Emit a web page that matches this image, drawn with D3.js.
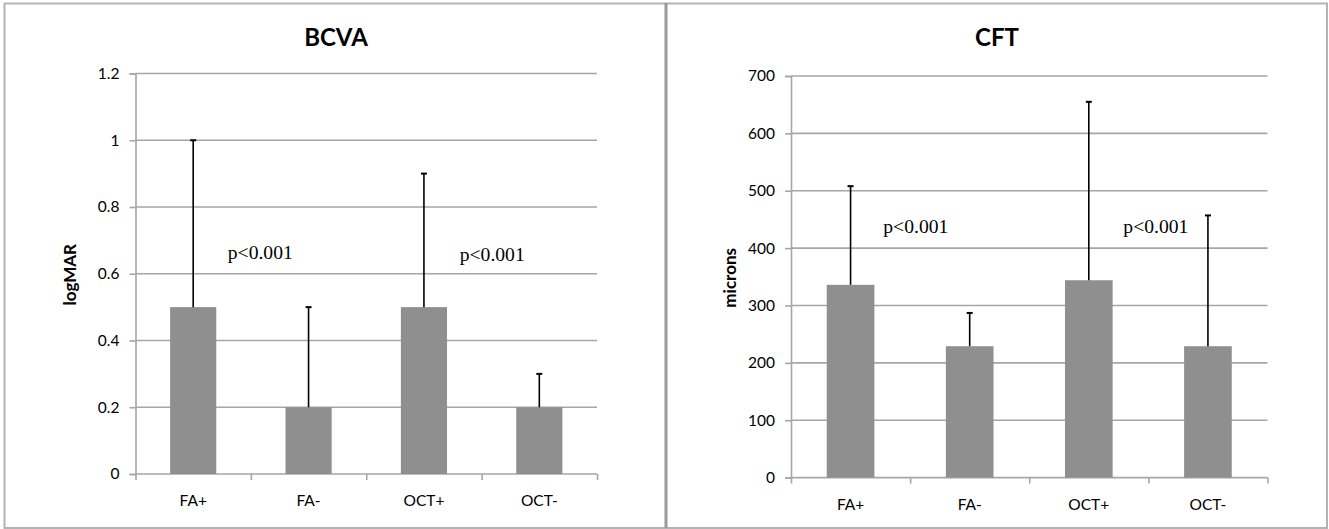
<!DOCTYPE html>
<html><head><meta charset="utf-8">
<script src="https://cdn.jsdelivr.net/npm/d3@7"></script>
<style>html,body{margin:0;padding:0;background:#fff;}svg{display:block;}</style>
</head><body>
<svg id="chart" width="1329" height="529"></svg>
<script>
// ---- data ----
const categories = ["FA+", "FA-", "OCT+", "OCT-"];
const bcvaMeans = [0.5, 0.2, 0.5, 0.2];
const bcvaErrTop = [1.0, 0.5, 0.9, 0.3];
const bcvaTicks = [0, 0.2, 0.4, 0.6, 0.8, 1, 1.2];
const cftMeans = [336, 229, 344, 229];
const cftErrTop = [508, 287, 655, 457];
const cftTicks = [0, 100, 200, 300, 400, 500, 600, 700];
const pLabel = "p<0.001";
const bcvaAnnot = [{pos: 0.8, value: 0.645}, {pos: 2.81, value: 0.637}];
const cftAnnot = [{pos: 0.775, value: 426}, {pos: 2.79, value: 426}];

const svg = d3.select("#chart");
const gridColor = "#a6a6a6";
const barColor = "#8f8f8f";
const tickFont = "Lato, 'Open Sans', sans-serif";

// frame
svg.append("rect").attr("x", 4.5).attr("y", 3.5).attr("width", 1322.5).attr("height", 524.5)
  .attr("fill", "none").attr("stroke", "#b3b3b3").attr("stroke-width", 2);
svg.append("line").attr("x1", 666).attr("x2", 666).attr("y1", 3).attr("y2", 528)
  .attr("stroke", "#9a9a9a").attr("stroke-width", 3);

function panel(o) {
  const g = svg.append("g");
  const y = d3.scaleLinear().domain([0, o.max]).range([o.yBottom, o.yTop]);
  const x = d3.scaleBand().domain(categories).range([o.xLeft, o.xRight]).paddingInner(0.6).paddingOuter(0.3);
  const xl = d3.scaleLinear().domain([0, categories.length]).range([o.xLeft, o.xRight]);

  // title
  g.append("text").attr("x", o.titleX).attr("y", 46).attr("text-anchor", "middle")
    .attr("font-family", tickFont).attr("font-weight", "bold").attr("font-size", 24)
    .attr("fill", "#000").text(o.title);

  // gridlines
  g.append("g").selectAll("line").data(o.ticks.filter(d => d > 0)).join("line")
    .attr("x1", o.xLeft).attr("x2", o.xRight)
    .attr("y1", d => y(d)).attr("y2", d => y(d))
    .attr("stroke", gridColor).attr("stroke-width", 1.6);

  // y axis
  const ya = g.append("g").attr("transform", `translate(${o.xLeft},0)`)
    .call(d3.axisLeft(y).tickValues(o.ticks).tickSize(6).tickPadding(10).tickFormat(d => String(d)));
  ya.select(".domain").attr("stroke", gridColor).attr("stroke-width", 1.6);
  ya.selectAll(".tick line").attr("stroke", gridColor).attr("stroke-width", 1.6);
  ya.selectAll("text").attr("font-family", tickFont).attr("font-size", 15.5).attr("fill", "#000");

  // x axis with boundary ticks
  const xa = g.append("g").attr("transform", `translate(0,${o.yBottom})`)
    .call(d3.axisBottom(xl).tickValues(d3.range(categories.length + 1)).tickSize(6).tickFormat(""));
  xa.select(".domain").attr("stroke", gridColor).attr("stroke-width", 1.6).attr("d", `M${o.xLeft},0H${o.xRight}`);
  xa.selectAll(".tick line").attr("stroke", gridColor).attr("stroke-width", 1.6);
  const xlab = g.append("g").attr("transform", `translate(0,${o.yBottom})`)
    .call(d3.axisBottom(x).tickSize(0).tickPadding(21));
  xlab.select(".domain").remove();
  xlab.selectAll("text").attr("font-family", tickFont).attr("font-size", 15.5).attr("fill", "#000");

  // bars
  g.append("g").selectAll("rect").data(o.means).join("rect")
    .attr("x", (d, i) => x(categories[i])).attr("width", x.bandwidth())
    .attr("y", d => y(d)).attr("height", d => y(0) - y(d))
    .attr("fill", barColor);

  // error bars (upper only)
  const eb = g.append("g").selectAll("g").data(o.errTop).join("g");
  eb.append("line")
    .attr("x1", (d, i) => x(categories[i]) + x.bandwidth() / 2)
    .attr("x2", (d, i) => x(categories[i]) + x.bandwidth() / 2)
    .attr("y1", (d, i) => y(o.means[i])).attr("y2", d => y(d))
    .attr("stroke", "#000").attr("stroke-width", 1.6);
  eb.append("line")
    .attr("x1", (d, i) => x(categories[i]) + x.bandwidth() / 2 - 3)
    .attr("x2", (d, i) => x(categories[i]) + x.bandwidth() / 2 + 3)
    .attr("y1", d => y(d)).attr("y2", d => y(d))
    .attr("stroke", "#000").attr("stroke-width", 2);

  // y label
  g.append("text").attr("transform", `translate(${o.yLabelX},${(o.yTop + o.yBottom) / 2 + 1}) rotate(-90)`)
    .attr("text-anchor", "middle").attr("font-family", tickFont).attr("font-weight", "bold")
    .attr("font-size", 17).attr("fill", "#000").text(o.yLabel);

  // p-value annotations
  g.append("g").selectAll("text").data(o.annot).join("text")
    .attr("x", d => xl(d.pos)).attr("y", d => y(d.value))
    .attr("font-family", "'Liberation Serif', 'Times New Roman', serif").attr("font-size", 18)
    .attr("textLength", 65).attr("lengthAdjust", "spacingAndGlyphs")
    .attr("fill", "#000").text(pLabel);
}

panel({title: "BCVA", titleX: 336, xLeft: 135.5, xRight: 597, yBottom: 474, yTop: 73.5,
  max: 1.2, ticks: bcvaTicks, means: bcvaMeans, errTop: bcvaErrTop, yLabel: "logMAR", yLabelX: 76,
  annot: bcvaAnnot});
panel({title: "CFT", titleX: 997, xLeft: 791, xRight: 1267.5, yBottom: 477.6, yTop: 76,
  max: 700, ticks: cftTicks, means: cftMeans, errTop: cftErrTop, yLabel: "microns", yLabelX: 736,
  annot: cftAnnot});
</script>
</body></html>
